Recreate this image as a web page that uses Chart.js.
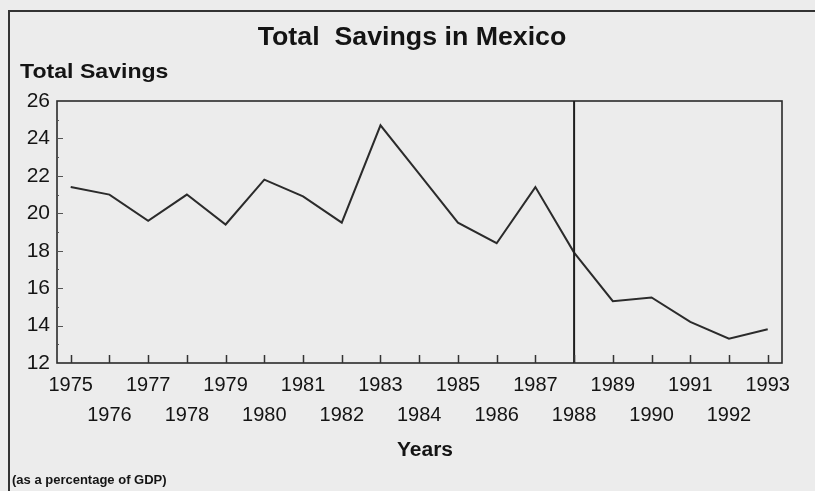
<!DOCTYPE html>
<html>
<head>
<meta charset="utf-8">
<title>Total Savings in Mexico</title>
<script src="https://cdn.jsdelivr.net/npm/chart.js@4"></script>
<style>
  html, body { margin: 0; padding: 0; background: #ececec; }
  canvas { display: block; }
</style>
</head>
<body>
<canvas id="c" width="815" height="491"></canvas>
<script>
// ---- data ----
const chartTitle = "Total  Savings in Mexico";
const yAxisTitle = "Total Savings";
const xAxisTitle = "Years";
const footnote = "(as a percentage of GDP)";
const years = [1975, 1976, 1977, 1978, 1979, 1980, 1981, 1982, 1983, 1984,
               1985, 1986, 1987, 1988, 1989, 1990, 1991, 1992, 1993];
const totalSavings = [21.4, 21.0, 19.6, 21.0, 19.4, 21.8, 20.9, 19.5, 24.7, 22.1,
                      19.5, 18.4, 21.4, 17.9, 15.3, 15.5, 14.2, 13.3, 13.8];
const yTickValues = [12, 14, 16, 18, 20, 22, 24, 26];
const markerYear = 1988;

const FONT = "'Liberation Sans', Arial, Helvetica, sans-serif";
const INK = '#141414';

function stretchedText(ctx, text, x, y, font, sx, align) {
  ctx.save();
  ctx.font = font;
  ctx.textAlign = 'left';
  ctx.textBaseline = 'alphabetic';
  const w = ctx.measureText(text).width * sx;
  let left = x;
  if (align === 'center') left = x - w / 2;
  ctx.translate(left, y);
  ctx.scale(sx, 1);
  ctx.fillText(text, 0, 0);
  ctx.restore();
}

const decorPlugin = {
  id: 'decor',
  beforeDraw(chart) {
    const ctx = chart.ctx;
    ctx.save();
    ctx.fillStyle = '#ececec';
    ctx.fillRect(0, 0, chart.width, chart.height);
    ctx.restore();
  },
  afterDatasetsDraw(chart) {
    const ctx = chart.ctx;
    const a = chart.chartArea;
    const xs = chart.scales.x, ys = chart.scales.y;
    ctx.save();
    // outer frame
    ctx.strokeStyle = '#333';
    ctx.lineWidth = 2;
    ctx.beginPath();
    ctx.moveTo(9, chart.height + 2);
    ctx.lineTo(9, 11);
    ctx.lineTo(chart.width + 2, 11);
    ctx.stroke();
    // plot border
    ctx.strokeStyle = '#2a2a2a';
    ctx.lineWidth = 1.6;
    ctx.strokeRect(a.left, a.top, a.right - a.left, a.bottom - a.top);
    // marker vertical line
    const mx = xs.getPixelForValue(markerYear);
    ctx.lineWidth = 2;
    ctx.strokeStyle = '#1e1e1e';
    ctx.beginPath();
    ctx.moveTo(mx, a.top);
    ctx.lineTo(mx, a.bottom);
    ctx.stroke();
    // x ticks (inside, upward)
    ctx.lineWidth = 1.5;
    ctx.strokeStyle = '#333';
    years.forEach(y => {
      const px = Math.round(xs.getPixelForValue(y)) + 0.5;
      ctx.beginPath();
      ctx.moveTo(px, a.bottom);
      ctx.lineTo(px, a.bottom - 8);
      ctx.stroke();
    });
    // y ticks (inside): majors at even, minors at odd
    ctx.lineWidth = 1;
    ctx.strokeStyle = '#555';
    ys.ticks.forEach(t => {
      const v = t.value;
      if (v <= ys.min || v >= ys.max) return;
      const py = Math.round(ys.getPixelForValue(v)) + 0.5;
      const len = (v % 2 === 0) ? 6 : 2;
      ctx.beginPath();
      ctx.moveTo(a.left, py);
      ctx.lineTo(a.left + len, py);
      ctx.stroke();
    });
    ctx.restore();
  },
  afterDraw(chart) {
    const ctx = chart.ctx;
    ctx.save();
    ctx.fillStyle = INK;
    stretchedText(ctx, chartTitle, 412, 45, 'bold 25px ' + FONT, 1.07, 'center');
    stretchedText(ctx, yAxisTitle, 20, 78, 'bold 21px ' + FONT, 1.1, 'left');
    stretchedText(ctx, xAxisTitle, 425, 456, 'bold 20px ' + FONT, 1.05, 'center');
    stretchedText(ctx, footnote, 12, 484, 'bold 13px ' + FONT, 1.0, 'left');
    ctx.restore();
  }
};

new Chart(document.getElementById('c'), {
  type: 'line',
  data: {
    datasets: [{
      label: yAxisTitle,
      data: years.map((y, i) => ({ x: y, y: totalSavings[i] })),
      borderColor: '#2b2b2b',
      borderWidth: 2,
      pointRadius: 0,
      tension: 0,
      fill: false
    }]
  },
  options: {
    responsive: false,
    animation: false,
    events: [],
    layout: { padding: { left: 0, top: 101, right: 33, bottom: 0 } },
    plugins: {
      legend: { display: false },
      title: { display: false },
      tooltip: { enabled: false }
    },
    scales: {
      x: {
        type: 'linear',
        min: 1974.646,
        max: 1993.369,
        grid: { display: false, drawTicks: false },
        border: { display: false },
        afterBuildTicks(scale) { scale.ticks = years.map(v => ({ value: v })); },
        afterFit(scale) { scale.height = 128; },
        ticks: {
          autoSkip: false,
          maxRotation: 0,
          minRotation: 0,
          padding: 7,
          color: INK,
          font: { family: FONT, size: 20, lineHeight: 1.525 },
          callback: (v) => ((v - years[0]) % 2 === 0 ? [String(v)] : ['', String(v)])
        }
      },
      y: {
        min: 12,
        max: 26,
        grid: { display: false, drawTicks: false },
        border: { display: false },
        afterFit(scale) { scale.width = 57; },
        ticks: {
          stepSize: 1,
          autoSkip: false,
          padding: 7,
          color: INK,
          font: { family: FONT, size: 21 },
          callback: (v) => (yTickValues.includes(v) ? String(v) : '')
        }
      }
    }
  },
  plugins: [decorPlugin]
});
</script>
</body>
</html>
